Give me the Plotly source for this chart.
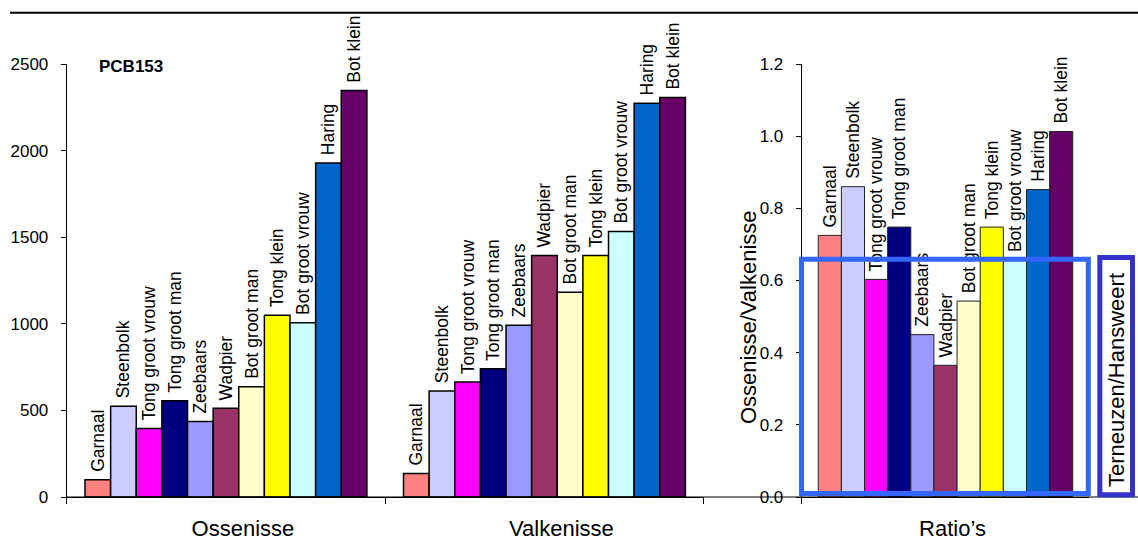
import plotly.graph_objects as go

# Fish species, in plotting order, with their fill colours
species = ["Garnaal", "Steenbolk", "Tong groot vrouw", "Tong groot man", "Zeebaars",
           "Wadpier", "Bot groot man", "Tong klein", "Bot groot vrouw", "Haring", "Bot klein"]
colors = ["#FF8080", "#CCCCFF", "#FF00FF", "#000080", "#9999FF", "#993366",
          "#FFFFCC", "#FFFF00", "#CCFFFF", "#0066CC", "#660066"]

# PCB153 concentrations per sampling location
locations = ["Ossenisse", "Valkenisse"]
ossenisse = [100, 524, 396, 556, 436, 512, 637, 1050, 1006, 1928, 2347]
valkenisse = [136, 612, 664, 740, 991, 1395, 1182, 1395, 1533, 2273, 2307]

# Ossenisse / Valkenisse ratios
ratio_category = ["Ratio\u2019s"]
ratios = [0.725, 0.86, 0.603, 0.748, 0.45, 0.365, 0.543, 0.748, 0.657, 0.852, 1.013]

FONT = "Liberation Sans, Arial, sans-serif"
W, H = 1138, 541
LABEL_FONT = dict(family=FONT, size=17.5, color="black")
# a no-break space keeps the rotated names a little clear of the bar tops
LABEL_TEMPLATE = "\u00a0%{text}"


def px(x):
    return x / W


def py(y):
    return (H - y) / H


fig = go.Figure()

for i, name in enumerate(species):
    fig.add_trace(go.Bar(
        x=locations, y=[ossenisse[i], valkenisse[i]], name=name,
        marker=dict(color=colors[i], line=dict(color="black", width=1.5)),
        text=[name, name], texttemplate=LABEL_TEMPLATE,
        textposition="outside", textangle=-90, textfont=LABEL_FONT,
        constraintext="none", cliponaxis=False,
        xaxis="x", yaxis="y", hoverinfo="x+y+name",
    ))
    fig.add_trace(go.Bar(
        x=ratio_category, y=[ratios[i]], name=name,
        marker=dict(color=colors[i], line=dict(color="#222222", width=1)),
        text=[name], texttemplate=LABEL_TEMPLATE,
        textposition="outside", textangle=-90, textfont=LABEL_FONT,
        constraintext="none", cliponaxis=False,
        xaxis="x2", yaxis="y2", hoverinfo="y+name",
    ))

y_domain = [py(497), py(64)]

common_x = dict(
    type="category", showline=True, linecolor="black", linewidth=1,
    ticks="outside", tickson="boundaries", ticklen=6, tickcolor="black",
    tickfont=dict(size=22), ticklabelstandoff=12,
    showgrid=False, zeroline=False, automargin=False,
)
common_y = dict(
    tick0=0, showline=True, linecolor="black", linewidth=1,
    ticks="outside", ticklen=5, tickcolor="black",
    tickfont=dict(size=17), ticklabelstandoff=9,
    showgrid=False, zeroline=False, automargin=False,
)

fig.update_layout(
    template="none",
    width=W, height=H, autosize=False,
    margin=dict(l=0, r=0, t=0, b=0, pad=0),
    paper_bgcolor="white", plot_bgcolor="white",
    showlegend=False,
    barmode="group", bargap=0.115, bargroupgap=0,
    font=dict(family=FONT, color="black"),
    xaxis=dict(domain=[px(66.7), px(703.7)], anchor="y", ticklabelshift=17, **common_x),
    yaxis=dict(domain=y_domain, anchor="x", range=[0, 2500], dtick=500, **common_y),
    xaxis2=dict(domain=[px(801.7), px(1089.3)], anchor="y2", ticklabelshift=7, **common_x),
    yaxis2=dict(domain=y_domain, anchor="x2", range=[0, 1.2], dtick=0.2,
                tickformat=".1f", **common_y),
)

# Top rule and the continuous baseline under both charts
fig.add_shape(type="line", xref="paper", yref="paper",
              x0=px(10), x1=1.0, y0=py(12.7), y1=py(12.7),
              line=dict(color="black", width=2))
fig.add_shape(type="line", xref="paper", yref="paper",
              x0=px(66.7), x1=1.0, y0=py(497), y1=py(497),
              line=dict(color="black", width=1))

# Frame around the ratio bars and the Terneuzen/Hansweert reference box
fig.add_shape(type="rect", xref="paper", yref="paper", layer="above",
              x0=px(801.5), x1=px(1088.3), y0=py(493.5), y1=py(259.3),
              line=dict(color="#3366FF", width=5), fillcolor="rgba(0,0,0,0)")
fig.add_shape(type="rect", xref="paper", yref="paper", layer="above",
              x0=px(1099.8), x1=px(1132.5), y0=py(494.8), y1=py(257.5),
              line=dict(color="#3333CC", width=5), fillcolor="white")

fig.add_annotation(text="Terneuzen/Hansweert", textangle=-90,
                   xref="paper", yref="paper", x=px(1116), y=py(380),
                   xanchor="center", yanchor="middle",
                   showarrow=False, font=dict(size=22, color="black"))
# vertical title of the ratio axis
fig.add_annotation(text="Ossenisse/Valkenisse", textangle=-90,
                   xref="paper", yref="paper", x=px(748), y=py(317),
                   xanchor="center", yanchor="middle",
                   showarrow=False, font=dict(size=22, color="black"))
fig.add_annotation(text="<b>PCB153</b>", xref="paper", yref="paper",
                   x=px(97), y=py(66), xanchor="left", yanchor="middle",
                   showarrow=False, font=dict(size=17, color="black"))

fig.write_html("out.html")
